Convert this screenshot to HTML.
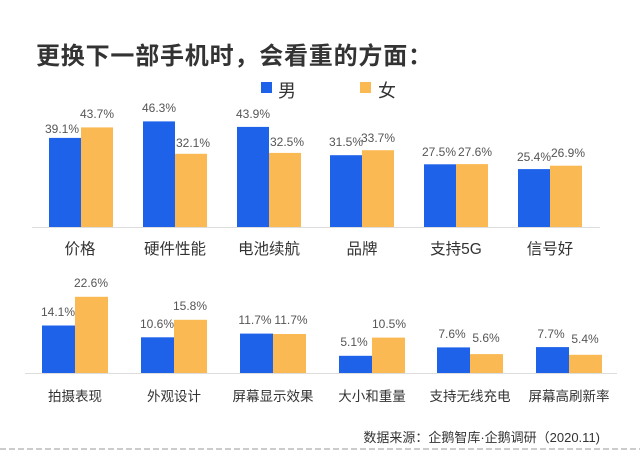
<!DOCTYPE html>
<html><head><meta charset="utf-8"><style>
html,body{margin:0;padding:0;background:#fff;}
svg{display:block;font-family:"Liberation Sans","Noto Sans CJK SC",sans-serif;}
.v{font-size:12px;fill:#555;text-anchor:middle;}
.c{font-size:15.5px;fill:#333;text-anchor:middle;}
.c2{font-size:13.5px;fill:#333;text-anchor:middle;}
</style></head><body>
<svg width="640" height="451" viewBox="0 0 640 451">
<rect width="640" height="451" fill="#fff"/>
<text x="36" y="64" font-size="24" font-weight="bold" fill="#333" letter-spacing="0.8">更换下一部手机时，会看重的方面：</text>
<rect x="261" y="82" width="11" height="11" fill="#1f62ea"/>
<text x="278" y="97" font-size="18" fill="#333">男</text>
<rect x="360" y="82" width="11" height="11" fill="#fbb954"/>
<text x="378" y="97" font-size="18" fill="#333">女</text>

<line x1="32" y1="227.5" x2="600" y2="227.5" stroke="#ddd" stroke-width="1"/>
<g fill="#1f62ea">
<rect x="49" y="137.9" width="32" height="89.1"/>
<rect x="143" y="121.4" width="32" height="105.6"/>
<rect x="237" y="126.9" width="32" height="100.1"/>
<rect x="330" y="155.2" width="32" height="71.8"/>
<rect x="424" y="164.3" width="32" height="62.7"/>
<rect x="518" y="169.1" width="32" height="57.9"/>
</g>
<g fill="#fbb954">
<rect x="81" y="127.4" width="32" height="99.6"/>
<rect x="175" y="153.8" width="32" height="73.2"/>
<rect x="269" y="152.9" width="32" height="74.1"/>
<rect x="362" y="150.2" width="32" height="76.8"/>
<rect x="456" y="164.1" width="32" height="62.9"/>
<rect x="550" y="165.7" width="32" height="61.3"/>
</g>
<g class="v">
<text x="62" y="133">39.1%</text><text x="97" y="118">43.7%</text>
<text x="159" y="112">46.3%</text><text x="193" y="147">32.1%</text>
<text x="253" y="118">43.9%</text><text x="287" y="146">32.5%</text>
<text x="346" y="146">31.5%</text><text x="378" y="142">33.7%</text>
<text x="439" y="156">27.5%</text><text x="475" y="156">27.6%</text>
<text x="534" y="161">25.4%</text><text x="568" y="157">26.9%</text>
</g>
<g class="c">
<text x="80" y="254">价格</text>
<text x="175" y="254">硬件性能</text>
<text x="269" y="254">电池续航</text>
<text x="362" y="254">品牌</text>
<text x="456" y="254">支持5G</text>
<text x="550" y="254">信号好</text>
</g>

<line x1="25" y1="373.5" x2="617" y2="373.5" stroke="#ddd" stroke-width="1"/>
<g fill="#1f62ea">
<rect x="42" y="325.5" width="33" height="47.5"/>
<rect x="141" y="337.3" width="33" height="35.7"/>
<rect x="240" y="333.6" width="33" height="39.4"/>
<rect x="339" y="355.8" width="33" height="17.2"/>
<rect x="437" y="347.4" width="33" height="25.6"/>
<rect x="536" y="347.1" width="33" height="25.9"/>
</g>
<g fill="#fbb954">
<rect x="75" y="296.8" width="33" height="76.2"/>
<rect x="174" y="319.8" width="33" height="53.2"/>
<rect x="273" y="334.0" width="33" height="39.0"/>
<rect x="372" y="337.6" width="33" height="35.4"/>
<rect x="470" y="354.1" width="33" height="18.9"/>
<rect x="569" y="354.8" width="33" height="18.2"/>
</g>
<g class="v">
<text x="58" y="316">14.1%</text><text x="91" y="287">22.6%</text>
<text x="157" y="328">10.6%</text><text x="190" y="310">15.8%</text>
<text x="255" y="324">11.7%</text><text x="291" y="324">11.7%</text>
<text x="354" y="346">5.1%</text><text x="389" y="328">10.5%</text>
<text x="452" y="338">7.6%</text><text x="486" y="342">5.6%</text>
<text x="551" y="338">7.7%</text><text x="585" y="343">5.4%</text>
</g>
<g class="c2">
<text x="75" y="401">拍摄表现</text>
<text x="174" y="401">外观设计</text>
<text x="273" y="401">屏幕显示效果</text>
<text x="372" y="401">大小和重量</text>
<text x="470" y="401">支持无线充电</text>
<text x="569" y="401">屏幕高刷新率</text>
</g>
<text x="600" y="442" font-size="13" fill="#333" text-anchor="end">数据来源：企鹅智库·企鹅调研（2020.11)</text>
<line x1="0" y1="449" x2="640" y2="449" stroke="#999" stroke-width="1" stroke-dasharray="6,3"/>
</svg>
</body></html>
